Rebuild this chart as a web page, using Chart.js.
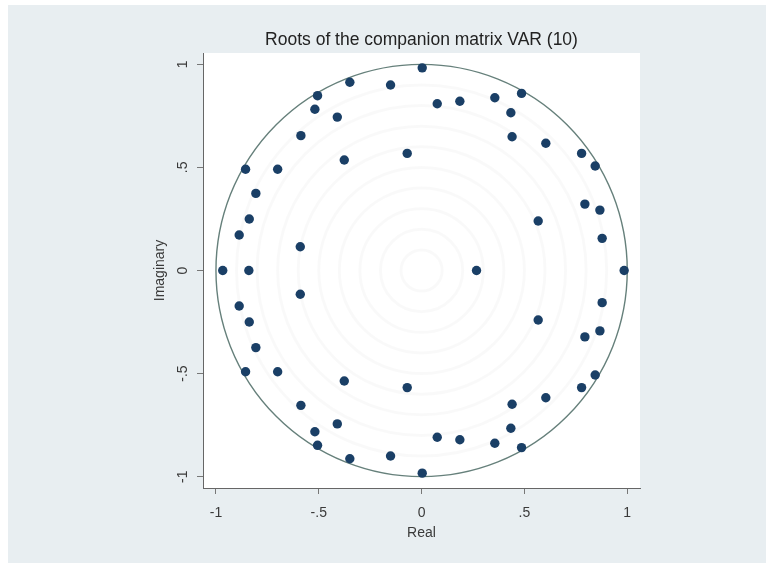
<!DOCTYPE html>
<html>
<head>
<meta charset="utf-8">
<script src="https://cdn.jsdelivr.net/npm/chart.js@4/dist/chart.umd.min.js"></script>
<style>
  html, body { margin: 0; padding: 0; background: #ffffff; }
  #backdrop { position: absolute; left: 8px; top: 5px; right: 0; bottom: 0; background: #e8eef1; }
  #wrap { position: absolute; left: 0; top: 0; width: 766px; height: 563px; }
</style>
</head>
<body>
<div id="backdrop"></div>
<div id="wrap"><canvas id="c" width="766" height="563"></canvas></div>
<script>
// Eigenvalues of the companion matrix (6 variables x 10 lags = 60 roots)
const realParts = [
  0.003, -0.349, -0.151, -0.506, -0.519, -0.410, 0.076, 0.186, 0.356, 0.486,
  0.434, 0.440, 0.604, 0.778, 0.844, 0.794, 0.867, 0.567, 0.878, -0.587,
  -0.376, -0.070, -0.856, -0.700, -0.806, -0.838, -0.887, -0.590,
  0.003, -0.349, -0.151, -0.506, -0.519, -0.410, 0.076, 0.186, 0.356, 0.486,
  0.434, 0.440, 0.604, 0.778, 0.844, 0.794, 0.867, 0.567, 0.878, -0.587,
  -0.376, -0.070, -0.856, -0.700, -0.806, -0.838, -0.887, -0.590,
  0.985, 0.267, -0.967, -0.840
];
const imagParts = [
  0.983, 0.913, 0.900, 0.848, 0.782, 0.744, 0.809, 0.821, 0.838, 0.859,
  0.765, 0.649, 0.617, 0.568, 0.507, 0.322, 0.293, 0.240, 0.156, 0.654,
  0.536, 0.568, 0.491, 0.491, 0.374, 0.250, 0.172, 0.115,
  -0.983, -0.913, -0.900, -0.848, -0.782, -0.744, -0.809, -0.821, -0.838, -0.859,
  -0.765, -0.649, -0.617, -0.568, -0.507, -0.322, -0.293, -0.240, -0.156, -0.654,
  -0.536, -0.568, -0.491, -0.491, -0.374, -0.250, -0.172, -0.115,
  0, 0, 0, 0
];

const xTicks = [-1, -0.5, 0, 0.5, 1];
const xTickLabels = ['-1', '-.5', '0', '.5', '1'];
const yTicks = [-1, -0.5, 0, 0.5, 1];
const yTickLabels = ['-1', '-.5', '0', '.5', '1'];
const guideRadii = [0.1, 0.2, 0.3, 0.4, 0.5, 0.6, 0.7, 0.8, 0.9];
const unitRadius = 1;

const titleText = 'Roots of the companion matrix VAR (10)';
const xTitle = 'Real';
const yTitle = 'Imaginary';

const FONT = '"Liberation Sans", Arial, Helvetica, sans-serif';

const points = realParts.map((re, i) => ({ x: re, y: imagParts[i] }));

// Plot-region fill, concentric guide circles and the unit circle
const circlesPlugin = {
  id: 'circles',
  beforeDatasetsDraw(chart) {
    const { ctx, chartArea, scales } = chart;
    const xs = scales.x, ys = scales.y;
    const cx = xs.getPixelForValue(0), cy = ys.getPixelForValue(0);
    const rx = r => Math.abs(xs.getPixelForValue(r) - cx);
    const ry = r => Math.abs(ys.getPixelForValue(r) - cy);
    ctx.save();
    ctx.beginPath();
    ctx.rect(chartArea.left, chartArea.top, chartArea.right - chartArea.left, chartArea.bottom - chartArea.top);
    ctx.clip();
    ctx.strokeStyle = 'rgba(0,0,0,0.022)';
    ctx.lineWidth = 3;
    guideRadii.forEach(r => {
      ctx.beginPath();
      ctx.ellipse(cx, cy, rx(r), ry(r), 0, 0, Math.PI * 2);
      ctx.stroke();
    });
    ctx.strokeStyle = '#66807b';
    ctx.lineWidth = 1.4;
    ctx.beginPath();
    ctx.ellipse(cx, cy, rx(unitRadius), ry(unitRadius), 0, 0, Math.PI * 2);
    ctx.stroke();
    ctx.restore();
  },
  beforeDraw(chart) {
    const { ctx, chartArea } = chart;
    ctx.save();
    ctx.fillStyle = '#ffffff';
    ctx.fillRect(chartArea.left, chartArea.top, chartArea.right - chartArea.left, chartArea.bottom - chartArea.top);
    ctx.restore();
  }
};

// Title, axis titles and the rotated y tick labels
const textPlugin = {
  id: 'texts',
  afterDraw(chart) {
    const { ctx, chartArea, scales } = chart;
    const midX = (chartArea.left + chartArea.right) / 2;
    const midY = (chartArea.top + chartArea.bottom) / 2;
    ctx.save();
    ctx.textAlign = 'center';
    ctx.textBaseline = 'middle';
    ctx.fillStyle = '#222222';
    ctx.font = '17.5px ' + FONT;
    ctx.fillText(titleText, midX, chartArea.top - 13);

    ctx.fillStyle = '#3a3a3a';
    ctx.font = '14px ' + FONT;
    ctx.fillText(xTitle, midX, chartArea.bottom + 45);

    ctx.save();
    ctx.translate(chartArea.left - 43, midY);
    ctx.rotate(-Math.PI / 2);
    ctx.fillText(yTitle, 0, 0);
    ctx.restore();

    yTicks.forEach((v, i) => {
      const py = scales.y.getPixelForValue(v);
      ctx.save();
      ctx.translate(chartArea.left - 20, py);
      ctx.rotate(-Math.PI / 2);
      ctx.fillText(yTickLabels[i], 0, 0);
      ctx.restore();
    });
    ctx.restore();
  }
};

new Chart(document.getElementById('c'), {
  type: 'scatter',
  data: {
    datasets: [{
      data: points,
      backgroundColor: '#1a3f66',
      borderColor: '#1a3f66',
      pointRadius: 4.7,
      pointHoverRadius: 4.7,
      borderWidth: 0
    }]
  },
  options: {
    responsive: false,
    animation: false,
    events: [],
    layout: { padding: { left: 0, top: 53, right: 126, bottom: 0 } },
    plugins: { legend: { display: false }, tooltip: { enabled: false }, title: { display: false } },
    scales: {
      x: {
        type: 'linear',
        min: -1.063,
        max: 1.062,
        afterBuildTicks: s => { s.ticks = xTicks.map(v => ({ value: v })); },
        afterFit: s => { s.height = 75; },
        grid: { drawOnChartArea: false, drawTicks: true, tickLength: 6, color: '#777777', lineWidth: 1 },
        border: { display: true, color: '#666666', width: 1 },
        ticks: {
          padding: 11,
          color: '#3a3a3a',
          font: { family: FONT, size: 14 },
          maxRotation: 0,
          minRotation: 0,
          callback: v => { const i = xTicks.indexOf(v); return i >= 0 ? xTickLabels[i] : ''; }
        }
      },
      y: {
        type: 'linear',
        min: -1.055,
        max: 1.055,
        afterBuildTicks: s => { s.ticks = yTicks.map(v => ({ value: v })); },
        afterFit: s => { s.width = 203; },
        grid: { drawOnChartArea: false, drawTicks: true, tickLength: 6, color: '#777777', lineWidth: 1 },
        border: { display: true, color: '#666666', width: 1 },
        ticks: { display: false }
      }
    }
  },
  plugins: [circlesPlugin, textPlugin]
});
</script>
</body>
</html>
